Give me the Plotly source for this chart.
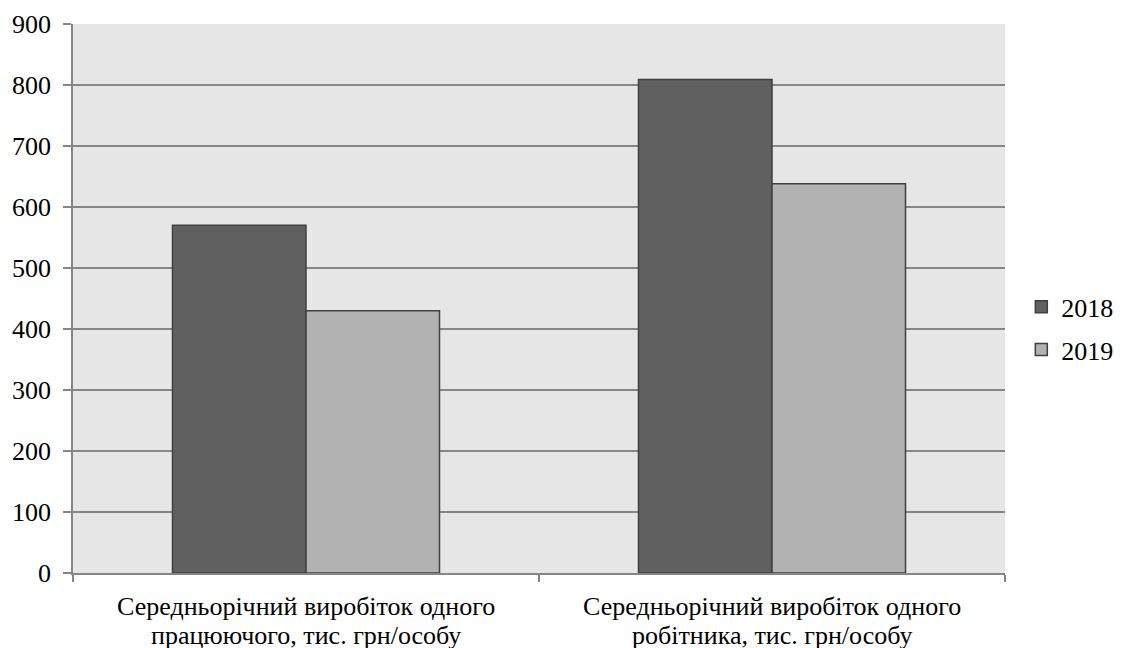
import plotly.graph_objects as go

category_lines = [["Середньорічний виробіток одного", "працюючого, тис. грн/особу"],
                  ["Середньорічний виробіток одного", "робітника, тис. грн/особу"]]
categories = ["<br>".join(lines) for lines in category_lines]
series_names = ["2018", "2019"]
values_2018 = [570, 809]
values_2019 = [430, 638]
y_ticks = [0, 100, 200, 300, 400, 500, 600, 700, 800, 900]

fig = go.Figure()
fig.add_trace(go.Bar(name=series_names[0], x=categories, y=values_2018,
                     marker=dict(color="#606060", line=dict(color="#404040", width=1.5)),
                     legendgroup="a"))
fig.add_trace(go.Bar(name=series_names[1], x=categories, y=values_2019,
                     marker=dict(color="#b2b2b2", line=dict(color="#404040", width=1.5)),
                     legendgroup="b"))

# category labels, one annotation per line (tighter line spacing than tick labels)
for cat, lines in zip(categories, category_lines):
    for i, line in enumerate(lines):
        fig.add_annotation(x=cat, xref="x", y=0, yref="paper", yanchor="top",
                           yshift=-18 - 29 * i, text=line, showarrow=False,
                           borderpad=0, font=dict(size=26))

axis_gray = "#868686"
serif = "Liberation Serif"
fig.update_layout(
    width=1122, height=648,
    margin=dict(l=65, r=125, t=16, b=83, autoexpand=False),
    paper_bgcolor="white", plot_bgcolor="#e6e6e6",
    font=dict(family=serif, size=26, color="black"),
    barmode="group", bargap=0.427, bargroupgap=0,
    showlegend=True,
    legend=dict(x=1.0175, xanchor="left", y=0.4455, yanchor="middle", xref="paper",
                font=dict(family=serif, size=26), tracegroupgap=6, itemwidth=30,
                bgcolor="rgba(0,0,0,0)"),
    xaxis=dict(showline=True, linecolor=axis_gray, linewidth=1.5,
               ticks="outside", tickson="boundaries", ticklen=7, tickcolor=axis_gray,
               tickwidth=1.5, showgrid=False, showticklabels=False, automargin=False),
    yaxis=dict(range=[0, 900], tickvals=y_ticks, showline=True, linecolor=axis_gray,
               linewidth=1.5, ticks="outside", ticklen=8, tickcolor=axis_gray, tickwidth=1.5,
               showgrid=True, gridcolor=axis_gray, gridwidth=1.5, zeroline=False,
               tickfont=dict(family=serif, size=26), ticklabelstandoff=7,
               automargin=False),
)
fig.write_html("out.html")
